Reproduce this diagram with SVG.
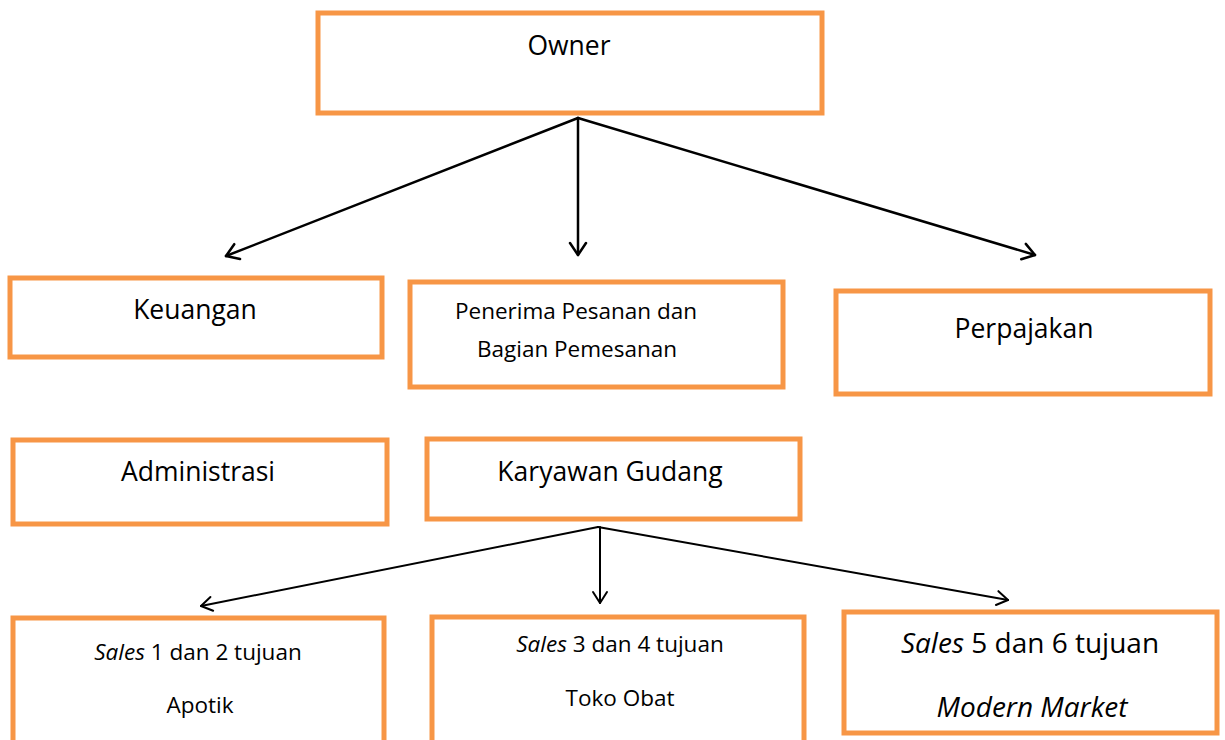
<svg xmlns="http://www.w3.org/2000/svg" width="1225" height="740" viewBox="0 0 1225 740">
<defs>
<style>
.box{fill:#fff;stroke:#F79646;stroke-width:5}
.t{font-family:"Open Sans","Liberation Sans",sans-serif;fill:#000;text-anchor:middle}
.l{font-size:26.5px}
.s{font-size:22.5px}
.xl{font-size:28px}
.c{fill:none;stroke:#000;stroke-linecap:round;stroke-linejoin:round}
</style>
<marker id="a" viewBox="0 0 20 20" refX="14" refY="10" markerWidth="20" markerHeight="20" markerUnits="userSpaceOnUse" orient="auto">
<path d="M2,2 L14,10 L2,18" fill="none" stroke="#000" stroke-width="2.5" stroke-linecap="round" stroke-linejoin="round"/>
</marker>
<marker id="b" viewBox="0 0 20 20" refX="14" refY="10" markerWidth="20" markerHeight="20" markerUnits="userSpaceOnUse" orient="auto">
<path d="M3,3 L14,10 L3,17" fill="none" stroke="#000" stroke-width="2" stroke-linecap="round" stroke-linejoin="round"/>
</marker>
</defs>
<rect width="1225" height="740" fill="#fff"/>
<g id="connectors">
<path class="c" stroke-width="2.5" d="M578,118 L226,256" marker-end="url(#a)"/>
<path class="c" stroke-width="2.5" d="M578,118 L578,255" marker-end="url(#a)"/>
<path class="c" stroke-width="2.5" d="M578,118 L1035,255" marker-end="url(#a)"/>
<path class="c" stroke-width="2" d="M598,527 L201,606" marker-end="url(#b)"/>
<path class="c" stroke-width="2" d="M600,527 L600,603" marker-end="url(#b)"/>
<path class="c" stroke-width="2" d="M598,527 L1008,600" marker-end="url(#b)"/>
</g>
<g id="owner"><rect class="box" x="318" y="13" width="504" height="100"/><text class="t l" x="569" y="55">Owner</text></g>
<g id="keuangan"><rect class="box" x="10" y="278" width="372" height="79"/><text class="t l" x="195" y="319">Keuangan</text></g>
<g id="penerima"><rect class="box" x="410" y="282" width="373" height="105"/><text class="t s" x="576" y="319">Penerima Pesanan dan</text><text class="t s" x="577" y="357">Bagian Pemesanan</text></g>
<g id="perpajakan"><rect class="box" x="836" y="291" width="374" height="103"/><text class="t l" x="1024" y="338">Perpajakan</text></g>
<g id="administrasi"><rect class="box" x="13" y="440" width="374" height="84"/><text class="t l" x="198" y="481">Administrasi</text></g>
<g id="karyawan"><rect class="box" x="427" y="439" width="373" height="80"/><text class="t l" x="610" y="481">Karyawan Gudang</text></g>
<g id="sales12"><rect class="box" x="13" y="618" width="371" height="130"/><text class="t s" x="198" y="660"><tspan font-style="italic">Sales</tspan> 1 dan 2 tujuan</text><text class="t s" x="200" y="713">Apotik</text></g>
<g id="sales34"><rect class="box" x="432" y="617" width="372" height="131"/><text class="t s" x="620" y="652"><tspan font-style="italic">Sales</tspan> 3 dan 4 tujuan</text><text class="t s" x="620" y="706">Toko Obat</text></g>
<g id="sales56"><rect class="box" x="844" y="612" width="373" height="121"/><text class="t xl" x="1030" y="653"><tspan font-style="italic">Sales</tspan> 5 dan 6 tujuan</text><text class="t xl" x="1032" y="717" font-style="italic">Modern Market</text></g>
</svg>
